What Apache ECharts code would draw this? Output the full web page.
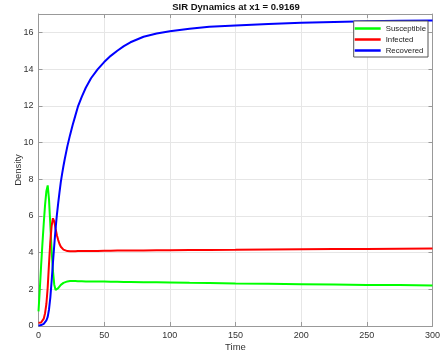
<!DOCTYPE html>
<html>
<head>
<meta charset="utf-8">
<script src="https://cdn.jsdelivr.net/npm/echarts@6/dist/echarts.min.js"></script>
<style>html,body{margin:0;padding:0;background:#fff}#c{width:443px;height:357px}</style>
</head>
<body>
<div id="c"></div>
<script>
const titleText = 'SIR Dynamics at x1 = 0.9169';
const seriesNames = ['Susceptible', 'Infected', 'Recovered'];
const time = [0,1,2,3,4,5,6,7,8,9,10,11,12,13,14,15,16,17,18,19,20,22,24,26,28,30,33,36,40,45,50,55,60,65,70,80,90,100,115,130,150,175,200,225,250,275,300];
const susceptible = [0.8,2.0,3.3,4.5,5.6,6.6,7.35,7.66,6.9,5.5,4.1,3.0,2.25,1.96,1.96,2.06,2.16,2.24,2.3,2.35,2.39,2.43,2.45,2.45,2.45,2.44,2.44,2.43,2.43,2.42,2.42,2.41,2.41,2.40,2.40,2.39,2.38,2.37,2.35,2.34,2.32,2.30,2.28,2.26,2.24,2.23,2.21];
const infected = [0.18,0.17,0.19,0.25,0.4,0.7,1.2,2.1,3.4,4.6,5.45,5.87,5.7,5.3,4.95,4.68,4.47,4.32,4.22,4.16,4.12,4.08,4.07,4.07,4.07,4.08,4.08,4.08,4.09,4.09,4.10,4.10,4.11,4.11,4.12,4.12,4.13,4.13,4.14,4.145,4.15,4.165,4.18,4.19,4.2,4.21,4.22];
const recovered = [0.02,0.03,0.05,0.08,0.12,0.2,0.3,0.5,0.9,1.55,2.45,3.45,4.4,5.3,6.05,6.7,7.3,7.85,8.3,8.72,9.1,9.8,10.4,10.95,11.45,11.95,12.5,12.98,13.5,13.98,14.38,14.72,15.0,15.25,15.46,15.76,15.94,16.06,16.2,16.3,16.38,16.46,16.52,16.56,16.6,16.63,16.65];
const colors = ['#00ff00', '#ff0000', '#0000ff'];
const xTicks = {min: 0, max: 300, interval: 50};
const yTicks = {min: 0, max: 17, interval: 2};

const font = 'Liberation Sans, Arial, sans-serif';
const axisCol = '#999999';
const zip = (xs, ys) => xs.map((x, i) => [x, ys[i]]);
const dataSets = [susceptible, infected, recovered];

const chart = echarts.init(document.getElementById('c'), null, {renderer: 'canvas'});
const baseAxis = {
  axisLine: {show: true, onZero: false, lineStyle: {color: axisCol, width: 1}},
  axisTick: {show: true, inside: true, length: 4, lineStyle: {color: axisCol}},
  axisLabel: {color: '#333', fontSize: 9, fontFamily: font},
  splitLine: {show: true, lineStyle: {color: '#e6e6e6', width: 1}}
};
chart.setOption({
  animation: false,
  backgroundColor: '#fff',
  title: {
    text: titleText, left: 236, top: 2, textAlign: 'center', padding: 0,
    textStyle: {fontSize: 9.5, fontWeight: 'bold', color: '#111', fontFamily: font}
  },
  grid: {left: 38.5, right: 9, top: 14, bottom: 30, containLabel: false},
  legend: {
    orient: 'vertical', right: 15, top: 21,
    data: seriesNames,
    icon: 'rect', itemWidth: 26, itemHeight: 2.5, itemGap: 0,
    padding: [2, 2, 1, 1],
    borderColor: '#555', borderWidth: 1, backgroundColor: '#fff',
    textStyle: {fontSize: 7.8, color: '#222', fontFamily: font, lineHeight: 11},
    z: 10
  },
  xAxis: [
    Object.assign({}, baseAxis, {
      type: 'value', position: 'bottom', min: xTicks.min, max: xTicks.max, interval: xTicks.interval,
      name: 'Time', nameLocation: 'middle', nameGap: 16, nameMoveOverlap: false,
      nameTextStyle: {fontSize: 9.5, color: '#333', fontFamily: font},
      axisLabel: Object.assign({}, baseAxis.axisLabel, {margin: 5})
    }),
    Object.assign({}, baseAxis, {
      type: 'value', position: 'top', min: xTicks.min, max: xTicks.max, interval: xTicks.interval,
      axisLabel: {show: false}, splitLine: {show: false}
    })
  ],
  yAxis: [
    Object.assign({}, baseAxis, {
      type: 'value', position: 'left', min: yTicks.min, max: yTicks.max, interval: yTicks.interval,
      name: 'Density', nameLocation: 'middle', nameGap: 15, nameMoveOverlap: false,
      nameTextStyle: {fontSize: 9.5, color: '#333', fontFamily: font},
      axisLabel: Object.assign({}, baseAxis.axisLabel, {margin: 5, showMaxLabel: false})
    }),
    Object.assign({}, baseAxis, {
      type: 'value', position: 'right', min: yTicks.min, max: yTicks.max, interval: yTicks.interval,
      axisLabel: {show: false}, splitLine: {show: false}
    })
  ],
  series: seriesNames.map((n, i) => ({
    name: n, type: 'line', xAxisIndex: 0, yAxisIndex: 0,
    data: zip(time, dataSets[i]),
    showSymbol: false, smooth: false,
    lineStyle: {color: colors[i], width: 2},
    itemStyle: {color: colors[i]},
    z: 2 + i
  }))
});
</script>
</body>
</html>
